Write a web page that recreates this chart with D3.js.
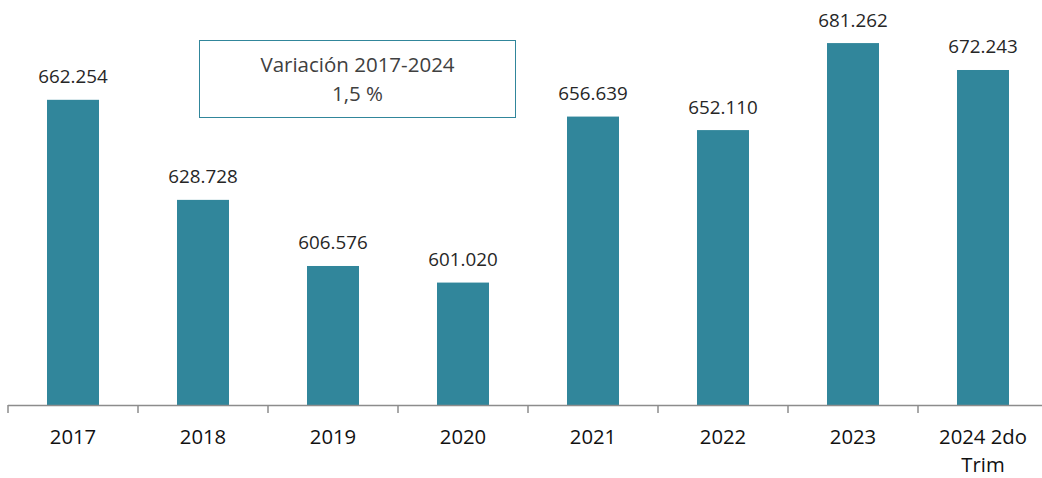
<!DOCTYPE html>
<html>
<head>
<meta charset="utf-8">
<script src="https://cdn.jsdelivr.net/npm/d3@7"></script>
<style>
  html, body { margin: 0; padding: 0; background: #fff; }
  svg { display: block; font-family: 'Open Sans', 'Noto Sans', sans-serif; }
</style>
</head>
<body>
<svg id="chart" width="1042" height="478"></svg>
<script>
// datos: población por año
const categories = ['2017', '2018', '2019', '2020', '2021', '2022', '2023', '2024 2do Trim'];
const values = [662254, 628728, 606576, 601020, 656639, 652110, 681262, 672243];
const noteLines = ['Variación 2017-2024', '1,5 %'];

const width = 1042;
const height = 478;
const barColor = '#31869b';
const fmt = d3.formatLocale({ decimal: ',', thousands: '.', grouping: [3], currency: ['', ''] }).format(',d');

const svg = d3.select('#chart');

const x = d3.scaleBand()
  .domain(categories)
  .range([8, 1048])
  .paddingInner(0.6)
  .paddingOuter(0.3);

const y = d3.scaleLinear()
  .domain([560000, 690000])
  .range([405, 17]);

// barras
svg.append('g')
  .selectAll('rect')
  .data(values)
  .join('rect')
  .attr('x', (d, i) => x(categories[i]))
  .attr('y', d => y(d))
  .attr('width', x.bandwidth())
  .attr('height', d => y.range()[0] - y(d))
  .attr('fill', barColor);

// etiquetas de valor
svg.append('g')
  .selectAll('text')
  .data(values)
  .join('text')
  .attr('x', (d, i) => x(categories[i]) + x.bandwidth() / 2)
  .attr('y', d => y(d) - 16.5)
  .attr('text-anchor', 'middle')
  .attr('font-size', '18.8px')
  .attr('fill', '#262626')
  .text(d => fmt(d));

// eje x
const axis = svg.append('g');
axis.append('line')
  .attr('x1', 8).attr('x2', 1048)
  .attr('y1', 405.5).attr('y2', 405.5)
  .attr('stroke', '#8c8c8c')
  .attr('stroke-width', 1.5);

const step = x.step();
const tickPos = d3.range(categories.length + 1).map(i => x.range()[0] + i * step);
axis.selectAll('.tick')
  .data(tickPos)
  .join('line')
  .attr('class', 'tick')
  .attr('x1', d => d).attr('x2', d => d)
  .attr('y1', 405).attr('y2', 413)
  .attr('stroke', '#8c8c8c')
  .attr('stroke-width', 1.5);

// etiquetas de categoría (con salto de línea)
const wrapLabel = c => c === '2024 2do Trim' ? ['2024 2do', 'Trim'] : [c];
axis.selectAll('.cat')
  .data(categories)
  .join('text')
  .attr('class', 'cat')
  .attr('text-anchor', 'middle')
  .attr('font-size', '20.3px')
  .attr('fill', '#111')
  .each(function(c) {
    const t = d3.select(this);
    wrapLabel(c).forEach((line, k) => {
      t.append('tspan')
        .attr('x', x(c) + x.bandwidth() / 2)
        .attr('y', 444 + k * 27.5)
        .text(line);
    });
  });

// recuadro de variación
const note = svg.append('g');
note.append('rect')
  .attr('x', 199.5).attr('y', 40.5)
  .attr('width', 316).attr('height', 77)
  .attr('fill', '#fff')
  .attr('stroke', barColor)
  .attr('stroke-width', 1);
note.selectAll('text')
  .data(noteLines)
  .join('text')
  .attr('x', 357.5)
  .attr('y', (d, i) => 71.7 + i * 29)
  .attr('text-anchor', 'middle')
  .attr('font-size', '20.5px')
  .attr('fill', '#404040')
  .text(d => d);
</script>
</body>
</html>
